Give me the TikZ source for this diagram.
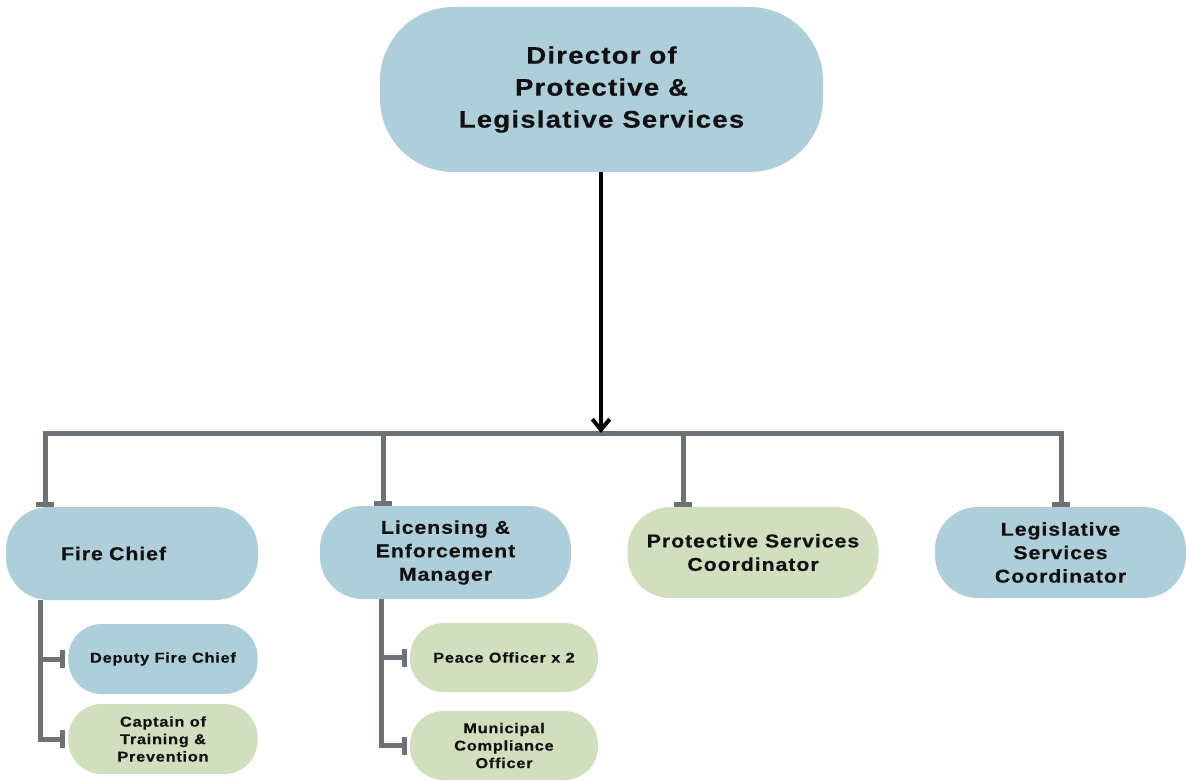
\documentclass[tikz,border=0pt]{standalone}
\usepackage{fontspec}
\setmainfont{Liberation Sans}[LetterSpace=5.0, FakeStretch=1.15, BoldFeatures={FakeBold=0.4}]
\usetikzlibrary{arrows.meta}
\definecolor{boxblue}{HTML}{AECFDA}
\definecolor{boxgreen}{HTML}{D2DFBF}
\definecolor{linegray}{HTML}{6D7277}
\definecolor{txt}{HTML}{111111}
\tikzset{
  topbox/.style={fill=boxblue, rounded corners=55pt, minimum width=332.25pt, minimum height=123.75pt,
    align=center, text=txt, font=\fontsize{18pt}{24pt}\selectfont\bfseries},
  midbox/.style={rounded corners=32pt, minimum width=188.25pt, minimum height=69.75pt,
    align=center, text=txt, font=\fontsize{13.9pt}{17.6pt}\selectfont\bfseries},
  subbox/.style={rounded corners=25pt, minimum width=142pt, minimum height=52.5pt,
    align=center, text=txt, font=\fontsize{10.7pt}{13.1pt}\selectfont\bfseries},
  conn/.style={draw=linegray, line width=3.75pt},
  tbar/.style={-{Bar[width=13.5pt]}},
  mainarrow/.style={draw=black, line width=3pt, -{Straight Barb[length=8pt,width=13pt]}}
}
\begin{document}
\begin{tikzpicture}[x=0.75pt,y=-0.75pt]
\useasboundingbox (0,0) rectangle (1186,781);

\node[topbox] (dir) at (601.5,89.5) {Director of\\Protective \&\\Legislative Services};

\node[midbox, fill=boxblue, align=left, text width=106.5pt, inner xsep=41.25pt] (fc) at (132,553.5) {Fire Chief};
\node[midbox, fill=boxblue] (lem) at (445.5,552.5) {Licensing \&\\Enforcement\\Manager};
\node[midbox, fill=boxgreen, minimum height=68.25pt] (psc) at (753,552.5) {Protective Services\\Coordinator};
\node[midbox, fill=boxblue, minimum height=68.25pt] (lsc) at (1060.5,552.5) {Legislative\\Services\\Coordinator};

\node[subbox, fill=boxblue] (dep) at (163,659) {Deputy Fire Chief};
\node[subbox, fill=boxgreen] (cap) at (163,739) {Captain of\\Training \&\\Prevention};
\node[subbox, fill=boxgreen, minimum width=141pt, minimum height=51.75pt] (peace) at (504,657.5) {Peace Officer x 2};
\node[subbox, fill=boxgreen, minimum width=141pt, minimum height=51.75pt] (mco) at (504,745.5) {Municipal\\Compliance\\Officer};

% bus coordinates
\coordinate (busL) at (45,433);
\coordinate (busA) at (383,433);
\coordinate (busM) at (601,433);
\coordinate (busB) at (683,433);
\coordinate (busR) at (1061,433);
\coordinate (fcv) at (40,600);
\coordinate (lemv) at (381,599);

% bus
\draw[conn, {Bar[width=13.5pt]}-{Bar[width=13.5pt]}] (fc.north -| busL) -- (busL) -- (busR) -- (lsc.north -| busR);
\draw[conn, tbar] (busA) -- (lem.north -| busA);
\draw[conn, tbar] (busB) -- (psc.north -| busB);

% main arrow
\draw[mainarrow] (dir.south -| busM) -- (busM);

% fire chief subordinates
\draw[conn, tbar, shorten >=2pt] (fcv) |- (cap.west);
\draw[conn, tbar, shorten >=2pt] (fcv |- dep.west) -- (dep.west);

% licensing subordinates
\draw[conn, tbar, shorten >=2pt] (lemv) |- (mco.west);
\draw[conn, tbar, shorten >=2pt] (lemv |- peace.west) -- (peace.west);
\end{tikzpicture}
\end{document}
